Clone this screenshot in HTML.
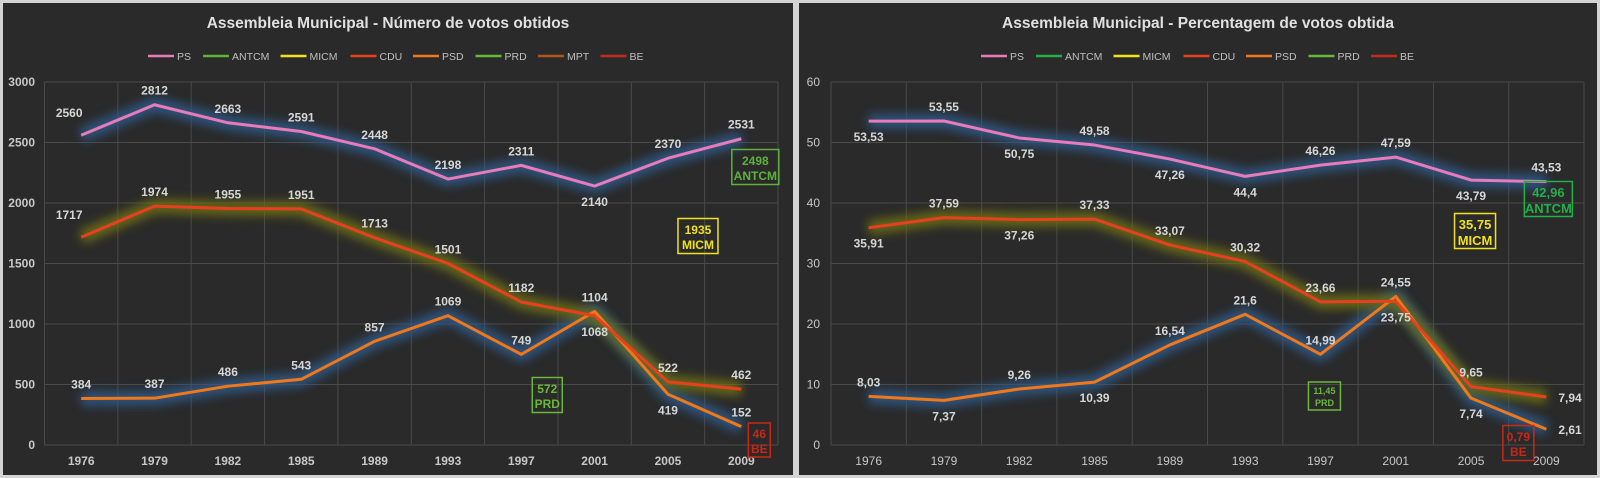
<!DOCTYPE html>
<html><head><meta charset="utf-8">
<style>
html,body{margin:0;padding:0;background:#d4d4d4;width:1600px;height:478px;overflow:hidden;}
svg{display:block;font-family:"Liberation Sans",sans-serif;}
</style></head>
<body>
<svg id="svg" width="1600" height="478" xmlns="http://www.w3.org/2000/svg">
<defs>
<filter id="blur" x="-10%" y="-50%" width="120%" height="200%"><feGaussianBlur stdDeviation="5"/></filter>
</defs>
<rect x="0" y="0" width="1600" height="478" fill="#d4d4d4"/>
<rect x="3" y="3" width="790" height="472" fill="#2a2a2a"/>
<rect x="799" y="3" width="798" height="472" fill="#2a2a2a"/>
<g id="c1"></g>
<g id="c2"></g>
</svg>
<script>
const years = ["1976","1979","1982","1985","1989","1993","1997","2001","2005","2009"];
const votesPS = [2560,2812,2663,2591,2448,2198,2311,2140,2370,2531];
const votesCDU = [1717,1974,1955,1951,1713,1501,1182,1068,522,462];
const votesPSD = [384,387,486,543,857,1069,749,1104,419,152];
const votesTicks = [0,500,1000,1500,2000,2500,3000];
const votesCallouts = [["2498","ANTCM"],["1935","MICM"],["572","PRD"],["46","BE"]];
const pctPS = [53.53,53.55,50.75,49.58,47.26,44.4,46.26,47.59,43.79,43.53];
const pctCDU = [35.91,37.59,37.26,37.33,33.07,30.32,23.66,23.75,9.65,7.94];
const pctPSD = [8.03,7.37,9.26,10.39,16.54,21.6,14.99,24.55,7.74,2.61];
const pctTicks = [0,10,20,30,40,50,60];
const pctCallouts = [["42,96","ANTCM"],["35,75","MICM"],["11,45","PRD"],["0,79","BE"]];
const legend1 = ["PS","ANTCM","MICM","CDU","PSD","PRD","MPT","BE"];
const legend2 = ["PS","ANTCM","MICM","CDU","PSD","PRD","BE"];

const NS="http://www.w3.org/2000/svg";
function mk(p,tag,attrs,txt){const e=document.createElementNS(NS,tag);for(const k in attrs)e.setAttribute(k,attrs[k]);if(txt!==undefined)e.textContent=txt;p.appendChild(e);return e;}
const legColors={PS:"#e87bb8",ANTCM:"#5fb13a",MICM:"#f0e020",CDU:"#e8401c",PSD:"#f07818",PRD:"#6ab83a",MPT:"#b0561c",BE:"#c82818"};

function chart(g,o){
  const x=i=>o.x0+(i+0.5)*o.step;
  const y=v=>o.y0-(v/o.max)*(o.y0-o.y1);
  const t=mk(g,'text',{x:o.cx,y:28,'text-anchor':'middle','font-size':15.5,'font-weight':'bold',fill:'#e0e0e0'},o.title);
  
  
  let lx=o.legX;
  o.legend.forEach(n=>{
    const lg=mk(g,'g',{});
    
    
    const c=(o.antcmCol&&n==='ANTCM')?o.antcmCol:legColors[n];
    mk(lg,'line',{x1:lx,y1:56,x2:lx+26,y2:56,stroke:c,'stroke-width':2.5});
    mk(lg,'text',{x:lx+29,y:60,'font-size':10.5,fill:'#bfbfbf'},n);
    lx+=30+n.length*7.5+10;
  });
  o.ticks.forEach(v=>{
    mk(g,'line',{x1:o.x0,y1:y(v),x2:o.x0+o.step*10,y2:y(v),stroke:'#4a4a4a','stroke-width':1});
    const tl=mk(g,'text',{x:o.yLabX,y:y(v)+4,'text-anchor':'end','font-size':12,'font-weight':o.bold?'bold':'normal',fill:'#c8c8c8'},v);
    
    
  });
  for(let i=0;i<=10;i++)mk(g,'line',{x1:o.x0+i*o.step,y1:y(o.max),x2:o.x0+i*o.step,y2:o.y0,stroke:'#4a4a4a','stroke-width':1});
  years.forEach((yr,i)=>{
    const xl=mk(g,'text',{x:x(i),y:465,'text-anchor':'middle','font-size':12,'font-weight':o.bold?'bold':'normal',fill:'#c8c8c8'},yr);
    
    
  });
  const series=[
    {name:'psd',d:o.psd,c:'#f07818',glow:'#2f5a8a',pos:o.posPSD},
    {name:'cdu',d:o.cdu,c:'#e8401c',glow:'#6e6e16',pos:o.posCDU},
    {name:'ps',d:o.ps,c:'#e87bb8',glow:'#2f5a8a',pos:o.posPS}
  ];
  series.forEach(s=>{
    const pts=s.d.map((v,i)=>x(i)+','+y(v)).join(' ');
    mk(g,'polyline',{points:pts,fill:'none',stroke:s.glow,'stroke-width':14,'stroke-linejoin':'round',filter:'url(#blur)',opacity:0.9});
  });
  series.forEach(s=>{
    const pts=s.d.map((v,i)=>x(i)+','+y(v)).join(' ');
    const pl=mk(g,'polyline',{points:pts,fill:'none',stroke:s.c,'stroke-width':3,'stroke-linejoin':'round'});
    
    
    s.d.forEach((v,i)=>{
      const p=s.pos[i];let lx=x(i),ly=y(v)-10,anc='middle';
      if(p==='b')ly=y(v)+20;
      if(p==='l'){lx=x(i)-12;ly=y(v)-18;}
      if(p==='r'){lx=x(i)+12;ly=y(v)+5;anc='start';}
      const lab=mk(g,'text',{x:lx,y:ly,'text-anchor':anc,'font-size':12,'font-weight':'bold',fill:'#d6d6d6'},o.fmt(v));
      
      
    });
  });
  o.callouts.forEach((c,k)=>{
    const b=o.boxes[k];
    const cg=mk(g,'g',{});
    
    
    const col=(c[1]==='ANTCM'&&o.antcmCol)?o.antcmCol:legColors[c[1]];
    const bx=x(b[0])+b[1];
    mk(cg,'rect',{x:bx-b[3]/2,y:b[2]-b[5]/2,width:b[3],height:b[5],fill:'none',stroke:col,'stroke-width':1.5});
    mk(cg,'text',{x:bx,y:b[2]-2,'text-anchor':'middle','font-size':b[4],'font-weight':'bold',fill:col},c[0]);
    mk(cg,'text',{x:bx,y:b[2]+b[4]+1,'text-anchor':'middle','font-size':b[4],'font-weight':'bold',fill:col},c[1]);
  });
}

chart(document.getElementById('c1'),{
  title:"Assembleia Municipal - Número de votos obtidos",cx:388,legX:148,legend:legend1,
  x0:44.5,step:73.35,y0:445,y1:82,max:3000,ticks:votesTicks,yLabX:35,bold:true,
  ps:votesPS,cdu:votesCDU,psd:votesPSD,
  posPS:['l','a','a','a','a','a','a','b','a','a'],
  posCDU:['l','a','a','a','a','a','a','b','a','a'],
  posPSD:['a','a','a','a','a','a','a','a','b','a'],
  fmt:v=>String(v),callouts:votesCallouts,antcmCol:null,
  boxes:[[9,14,167,47,12,35],[8,30,236,40,12,35],[6,26,395,30,12,35],[9,18,440,22,12,34]]
});
chart(document.getElementById('c2'),{
  title:"Assembleia Municipal - Percentagem de votos obtida",cx:1198,legX:981,legend:legend2,
  x0:831,step:75.3,y0:445,y1:82,max:60,ticks:pctTicks,yLabX:820,bold:false,
  ps:pctPS,cdu:pctCDU,psd:pctPSD,
  posPS:['b','a','b','a','b','b','a','a','b','a'],
  posCDU:['b','a','b','a','a','a','a','b','a','r'],
  posPSD:['a','b','a','b','a','a','a','a','b','r'],
  fmt:v=>String(v).replace('.',','),callouts:pctCallouts,antcmCol:'#22b04a',
  boxes:[[9,2,199,48,13,35],[8,4,231,41,13,35],[6,4,396,32,9,28],[9,-28,443,31,12,35]]
});
</script>
</body></html>
